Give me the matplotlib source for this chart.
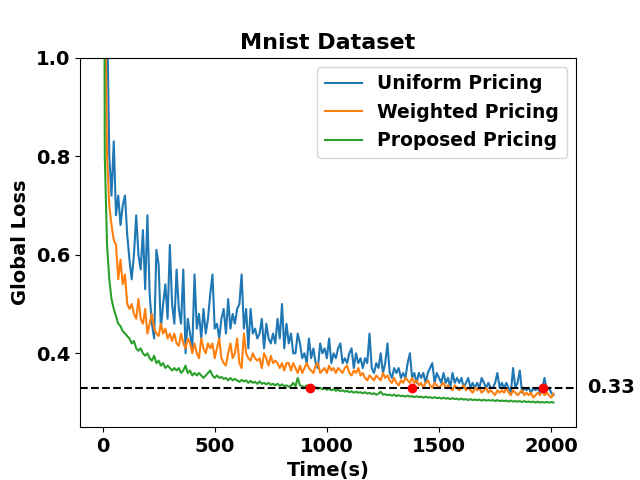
import numpy as np
import matplotlib
matplotlib.use("Agg")
import matplotlib.pyplot as plt
import matplotlib.transforms as mtransforms

# time axis, one sample every 10 s
time_s = np.arange(0, 2020, 10)

uniform_loss = [
    2.0, 1.5, 1.1, 0.80, 0.72, 0.83, 0.68, 0.72, 0.66, 0.70,
    0.72, 0.64, 0.59, 0.55, 0.60, 0.68, 0.60, 0.57, 0.65, 0.53,
    0.68, 0.52, 0.46, 0.43, 0.61, 0.58, 0.45, 0.50, 0.54, 0.47,
    0.62, 0.50, 0.46, 0.57, 0.49, 0.46, 0.57, 0.40, 0.47, 0.44,
    0.41, 0.56, 0.45, 0.48, 0.43, 0.49, 0.44, 0.47, 0.52, 0.56,
    0.45, 0.46, 0.43, 0.47, 0.49, 0.44, 0.51, 0.45, 0.48, 0.46,
    0.49, 0.50, 0.56, 0.45, 0.49, 0.41, 0.49, 0.44, 0.45, 0.43,
    0.44, 0.47, 0.41, 0.46, 0.43, 0.42, 0.44, 0.42, 0.47, 0.43,
    0.50, 0.41, 0.46, 0.42, 0.44, 0.40, 0.40, 0.44, 0.42, 0.39,
    0.40, 0.38, 0.43, 0.39, 0.41, 0.38, 0.37, 0.42, 0.40, 0.41,
    0.39, 0.43, 0.38, 0.40, 0.39, 0.41, 0.42, 0.38, 0.39, 0.38,
    0.40, 0.41, 0.37, 0.40, 0.38, 0.39, 0.37, 0.39, 0.38, 0.44,
    0.37, 0.36, 0.38, 0.37, 0.40, 0.36, 0.38, 0.42, 0.36, 0.35,
    0.37, 0.36, 0.37, 0.35, 0.36, 0.35, 0.38, 0.40, 0.35, 0.36,
    0.34, 0.36, 0.35, 0.36, 0.34, 0.36, 0.37, 0.38, 0.34, 0.36,
    0.35, 0.34, 0.36, 0.34, 0.35, 0.33, 0.36, 0.34, 0.35, 0.34,
    0.35, 0.33, 0.34, 0.35, 0.33, 0.34, 0.33, 0.34, 0.33, 0.35,
    0.34, 0.33, 0.34, 0.33, 0.33, 0.34, 0.36, 0.33, 0.34, 0.33,
    0.34, 0.33, 0.32, 0.37, 0.33, 0.34, 0.365, 0.32, 0.33, 0.325,
    0.33, 0.32, 0.33, 0.325, 0.33, 0.32, 0.33, 0.35, 0.325, 0.33,
    0.32, 0.315,
]

weighted_loss = [
    1.8, 1.2, 0.80, 0.70, 0.66, 0.63, 0.62, 0.55, 0.59, 0.54,
    0.56, 0.50, 0.49, 0.50, 0.48, 0.47, 0.51, 0.47, 0.46, 0.49,
    0.44, 0.46, 0.48, 0.45, 0.44, 0.435, 0.46, 0.44, 0.45, 0.43,
    0.44, 0.425, 0.44, 0.42, 0.415, 0.44, 0.42, 0.41, 0.43, 0.42,
    0.40, 0.42, 0.40, 0.39, 0.43, 0.41, 0.40, 0.42, 0.41, 0.42,
    0.39, 0.41, 0.43, 0.39, 0.38, 0.375, 0.40, 0.42, 0.39, 0.40,
    0.43, 0.38, 0.37, 0.44, 0.40, 0.39, 0.385, 0.40, 0.39, 0.385,
    0.39, 0.37, 0.40, 0.39, 0.375, 0.395, 0.38, 0.385, 0.38, 0.37,
    0.38, 0.365, 0.38, 0.38, 0.365, 0.38, 0.37, 0.36, 0.375, 0.36,
    0.37, 0.38, 0.37, 0.365, 0.36, 0.375, 0.38, 0.36, 0.365, 0.37,
    0.36, 0.375, 0.365, 0.37, 0.36, 0.37, 0.365, 0.36, 0.37, 0.375,
    0.36, 0.355, 0.365, 0.36, 0.37, 0.355, 0.36, 0.35, 0.345, 0.355,
    0.35, 0.345, 0.355, 0.35, 0.345, 0.36, 0.35, 0.355, 0.345, 0.34,
    0.35, 0.34, 0.335, 0.345, 0.34, 0.35, 0.345, 0.34, 0.35, 0.34,
    0.345, 0.335, 0.34, 0.33, 0.34, 0.345, 0.335, 0.33, 0.34, 0.335,
    0.33, 0.335, 0.34, 0.33, 0.335, 0.33, 0.325, 0.335, 0.33, 0.325,
    0.33, 0.335, 0.325, 0.33, 0.325, 0.32, 0.33, 0.325, 0.33, 0.32,
    0.325, 0.33, 0.32, 0.325, 0.32, 0.315, 0.325, 0.32, 0.325, 0.32,
    0.33, 0.32, 0.315, 0.325, 0.32, 0.315, 0.32, 0.325, 0.315, 0.32,
    0.315, 0.32, 0.31, 0.315, 0.32, 0.315, 0.325, 0.315, 0.32, 0.315,
    0.31, 0.318,
]

proposed_loss = [
    2.6, 0.80, 0.62, 0.55, 0.51, 0.49, 0.475, 0.46, 0.455, 0.445,
    0.44, 0.435, 0.43, 0.42, 0.425, 0.41, 0.405, 0.41, 0.40, 0.395,
    0.40, 0.39, 0.385, 0.395, 0.38, 0.385, 0.375, 0.38, 0.37, 0.375,
    0.37, 0.365, 0.37, 0.365, 0.37, 0.36, 0.365, 0.375, 0.36, 0.365,
    0.355, 0.36, 0.355, 0.36, 0.355, 0.35, 0.355, 0.36, 0.365, 0.355,
    0.35, 0.355, 0.35, 0.352, 0.348, 0.35, 0.345, 0.35, 0.345, 0.348,
    0.345, 0.342, 0.346, 0.343, 0.345, 0.34, 0.344, 0.34, 0.342, 0.338,
    0.343, 0.338, 0.34, 0.337, 0.34, 0.336, 0.338, 0.335, 0.338, 0.334,
    0.337, 0.333, 0.335, 0.332, 0.334, 0.34, 0.333, 0.35, 0.335, 0.333,
    0.331, 0.335, 0.33, 0.332, 0.329, 0.331, 0.328, 0.33, 0.327, 0.329,
    0.326, 0.328, 0.325, 0.327, 0.324, 0.326, 0.323, 0.325, 0.322, 0.324,
    0.321, 0.323, 0.32, 0.322, 0.32, 0.321, 0.319, 0.321, 0.318, 0.32,
    0.317, 0.319, 0.316, 0.318, 0.322, 0.316, 0.317, 0.315, 0.316, 0.314,
    0.316, 0.313, 0.315, 0.313, 0.314, 0.312, 0.314, 0.312, 0.313, 0.311,
    0.313, 0.311, 0.312, 0.31, 0.312, 0.31, 0.311, 0.309, 0.311, 0.309,
    0.31, 0.308, 0.31, 0.308, 0.309, 0.307, 0.309, 0.307, 0.308, 0.306,
    0.308, 0.306, 0.307, 0.305, 0.307, 0.305, 0.306, 0.305, 0.306, 0.304,
    0.306, 0.304, 0.305, 0.304, 0.305, 0.303, 0.305, 0.303, 0.304, 0.303,
    0.304, 0.302, 0.304, 0.302, 0.303, 0.302, 0.303, 0.301, 0.303, 0.301,
    0.302, 0.301, 0.302, 0.3, 0.302, 0.3, 0.301, 0.3, 0.301, 0.3,
    0.301, 0.3,
]

target_loss = 0.33
# times where each scheme first reaches the target loss
reach_times = [925, 1380, 1965]

fig, ax = plt.subplots(figsize=(6.4, 4.8), dpi=100)

ax.plot(time_s, uniform_loss, label="Uniform Pricing")
ax.plot(time_s, weighted_loss, label="Weighted Pricing")
ax.plot(time_s, proposed_loss, label="Proposed Pricing")
ax.axhline(target_loss, color="black", linestyle="--")
ax.plot(reach_times, [target_loss] * len(reach_times), "o", color="red", markersize=6)

trans = mtransforms.blended_transform_factory(ax.transAxes, ax.transData)
ax.text(1.022, target_loss, "0.33", transform=trans, fontsize=14,
        fontweight="bold", va="center", ha="left")

ax.set_ylim(0.25, 1.0)
ax.set_xticks([0, 500, 1000, 1500, 2000])
ax.set_yticks([0.4, 0.6, 0.8, 1.0])
ax.set_title("Mnist Dataset", fontsize=16, fontweight="bold")
ax.set_xlabel("Time(s)", fontsize=14, fontweight="bold")
ax.set_ylabel("Global Loss", fontsize=14, fontweight="bold")
for lab in ax.get_xticklabels() + ax.get_yticklabels():
    lab.set_fontsize(14)
    lab.set_fontweight("bold")
ax.legend(loc="upper right", prop={"size": 13.5, "weight": "bold"})

plt.savefig("out.png")
